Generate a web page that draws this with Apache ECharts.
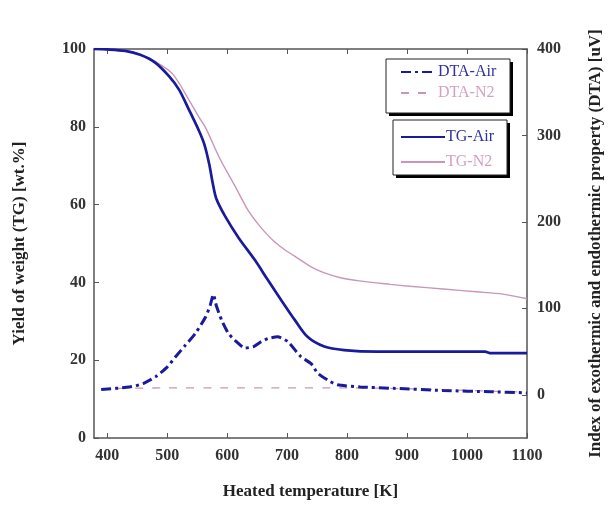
<!DOCTYPE html>
<html>
<head>
<meta charset="utf-8">
<script src="https://cdn.jsdelivr.net/npm/echarts@6/dist/echarts.min.js"></script>
<style>
html,body{margin:0;padding:0;background:#fff;}
#c{width:612px;height:505px;}
</style>
</head>
<body>
<div id="c"></div>
<script>
// ---- data ----
const xTicks = [400, 500, 600, 700, 800, 900, 1000, 1100];
const rightTicks = [0, 100, 200, 300, 400];

const tgAirT = [378, 400, 430, 455, 480, 503, 520, 536, 553, 562, 570, 576, 582, 597, 619, 646, 668, 690, 713, 734, 762, 795, 850, 950, 1030, 1040, 1100];
const tgAirW = [100, 99.9, 99.5, 98.5, 96.5, 93, 89.5, 84.5, 79, 75.5, 70.5, 65.5, 61.5, 56.9, 51.5, 45.8, 40.6, 35.5, 30.3, 26, 23.5, 22.6, 22.2, 22.2, 22.2, 21.8, 21.8];

const tgN2T = [378, 430, 460, 480, 509, 536, 553, 564, 588, 613, 635, 650, 665, 680, 696, 712, 740, 760, 789, 820, 872, 905, 960, 1015, 1060, 1100];
const tgN2W = [100, 99.6, 98.3, 96.8, 93.6, 87, 82.5, 79.8, 71.8, 64.8, 58.5, 55.3, 52.6, 50.3, 48.4, 46.8, 44, 42.6, 41.2, 40.4, 39.5, 39, 38.3, 37.6, 37, 35.8];

const dtaAirT = [390, 437, 460, 481, 500, 514, 530, 547, 564, 572, 577, 582, 591, 602, 613, 630, 645, 657, 670, 684, 701, 723, 740, 751, 770, 784, 822, 877, 960, 1040, 1092, 1100];
const dtaAirD = [6, 9, 13, 21, 32, 44, 57, 71, 90, 104, 116, 103, 86, 71, 63, 54, 56, 61.5, 65.5, 67, 61.5, 44, 36, 25, 16, 11.5, 9, 7.5, 5, 3.5, 2.4, 2];

const dtaN2T = [390, 500, 600, 700, 800, 900, 1000, 1100];
const dtaN2D = [7, 8, 8, 8, 8, 7, 5, 3];

const zip = (a, b) => a.map((v, i) => [v, b[i]]);

const FONT = 'Liberation Serif';
const AX = '#555';
const BLUE = '#1a1a9c';
const PINK = '#c996b8';

const chart = echarts.init(document.getElementById('c'));
chart.setOption({
  animation: false,
  backgroundColor: '#fff',
  grid: {left: 94, right: 81, top: 49, bottom: 67},
  xAxis: [{
    type: 'value', position: 'bottom', min: 378, max: 1100,
    name: 'Heated temperature [K]', nameLocation: 'middle', nameGap: 45,
    nameTextStyle: {fontFamily: FONT, fontWeight: 'bold', fontSize: 17, color: '#222'},
    axisLine: {show: true, onZero: false, lineStyle: {color: AX, width: 1.5}},
    axisTick: {show: true, inside: true, length: 5, customValues: xTicks, lineStyle: {color: AX}},
    axisLabel: {customValues: xTicks, formatter: v => String(v), margin: 10, fontFamily: FONT, fontWeight: 'bold', fontSize: 16, color: '#333'},
    splitLine: {show: false}
  }, {
    type: 'value', position: 'top', min: 378, max: 1100,
    axisLine: {show: true, onZero: false, lineStyle: {color: AX, width: 1.5}},
    axisTick: {show: true, inside: true, length: 5, customValues: xTicks, lineStyle: {color: AX}},
    axisLabel: {show: false},
    splitLine: {show: false}
  }],
  yAxis: [{
    type: 'value', position: 'left', min: 0, max: 100, interval: 20,
    name: 'Yield of weight (TG) [wt.%]', nameLocation: 'middle', nameGap: 66, nameRotate: 90,
    nameTextStyle: {fontFamily: FONT, fontWeight: 'bold', fontSize: 17, color: '#222'},
    axisLine: {show: true, onZero: false, lineStyle: {color: AX, width: 1.5}},
    axisTick: {show: true, inside: true, length: 5, lineStyle: {color: AX}},
    axisLabel: {margin: 8, fontFamily: FONT, fontWeight: 'bold', fontSize: 16, color: '#333'},
    splitLine: {show: false}
  }, {
    type: 'value', position: 'right', min: -50, max: 400,
    name: 'Index of exothermic and endothermic property (DTA) [uV]', nameLocation: 'middle', nameGap: 60, nameRotate: 90,
    nameTextStyle: {fontFamily: FONT, fontWeight: 'bold', fontSize: 17, color: '#222'},
    axisLine: {show: true, onZero: false, lineStyle: {color: AX, width: 1.5}},
    axisTick: {show: true, inside: true, length: 5, customValues: rightTicks, lineStyle: {color: AX}},
    axisLabel: {customValues: rightTicks, margin: 10, fontFamily: FONT, fontWeight: 'bold', fontSize: 16, color: '#333'},
    splitLine: {show: false}
  }],
  graphic: [
    {type: 'rect', z: 20, shape: {x: 389, y: 62, width: 124, height: 54}, style: {fill: '#000'}},
    {type: 'rect', z: 21, shape: {x: 386, y: 59, width: 124, height: 54}, style: {fill: '#fff', stroke: '#222', lineWidth: 1}},
    {type: 'rect', z: 20, shape: {x: 396, y: 123, width: 114, height: 55}, style: {fill: '#000'}},
    {type: 'rect', z: 21, shape: {x: 393, y: 120, width: 114, height: 55}, style: {fill: '#fff', stroke: '#222', lineWidth: 1}}
  ],
  legend: [{
    z: 30, orient: 'vertical', left: 400, top: 64, itemWidth: 34, itemHeight: 12, itemGap: 5,
    padding: 0, align: 'left', itemStyle: {opacity: 0},
    textStyle: {fontFamily: FONT, fontSize: 16, padding: [0, 0, 0, -2]},
    data: [
      {name: 'DTA-Air', textStyle: {color: '#3030a0'}},
      {name: 'DTA-N2', textStyle: {color: '#d4a0c4'}}
    ]
  }, {
    z: 30, orient: 'vertical', left: 400, top: 129, itemWidth: 44, itemHeight: 12, itemGap: 9,
    padding: 0, align: 'left', itemStyle: {opacity: 0},
    textStyle: {fontFamily: FONT, fontSize: 16, padding: [0, 0, 0, -4]},
    data: [
      {name: 'TG-Air', textStyle: {color: '#3030a0'}},
      {name: 'TG-N2', textStyle: {color: '#d4a0c4'}}
    ]
  }],
  series: [{
    name: 'DTA-Air', type: 'line', xAxisIndex: 0, yAxisIndex: 1, symbol: 'none', smooth: 0.2,
    data: zip(dtaAirT, dtaAirD),
    lineStyle: {color: BLUE, width: 3, type: [10, 4, 3, 4]}, itemStyle: {color: BLUE}, z: 4
  }, {
    name: 'DTA-N2', type: 'line', xAxisIndex: 0, yAxisIndex: 1, symbol: 'none', smooth: 0.2,
    data: zip(dtaN2T, dtaN2D),
    lineStyle: {color: PINK, width: 1.3, type: [8, 9]}, itemStyle: {color: PINK}, z: 2
  }, {
    name: 'TG-Air', type: 'line', xAxisIndex: 0, yAxisIndex: 0, symbol: 'none', smooth: 0.3,
    data: zip(tgAirT, tgAirW),
    lineStyle: {color: BLUE, width: 2.7}, itemStyle: {color: BLUE}, z: 3
  }, {
    name: 'TG-N2', type: 'line', xAxisIndex: 0, yAxisIndex: 0, symbol: 'none', smooth: 0.3,
    data: zip(tgN2T, tgN2W),
    lineStyle: {color: PINK, width: 1.4}, itemStyle: {color: PINK}, z: 2
  }]
});
</script>
</body>
</html>
